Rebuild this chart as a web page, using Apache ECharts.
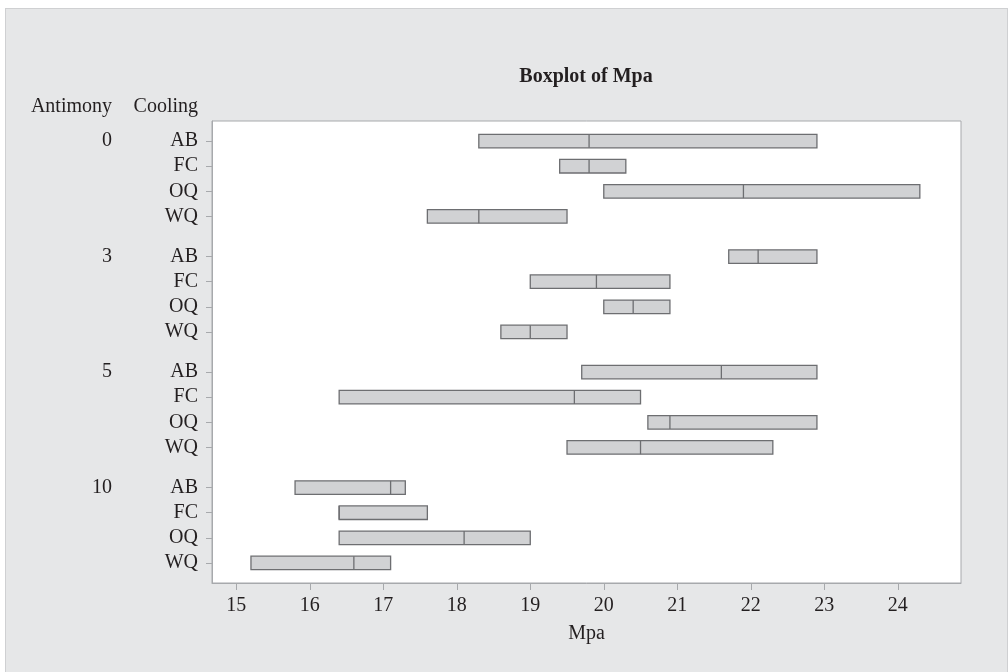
<!DOCTYPE html>
<html>
<head>
<meta charset="utf-8">
<script src="https://cdn.jsdelivr.net/npm/echarts@6/dist/echarts.min.js"></script>
<style>
  html, body { margin: 0; padding: 0; background: #ffffff; }
  #panel { position: absolute; left: 5px; top: 8px; width: 1003px; height: 666px; box-sizing: border-box;
           background: #e6e7e8; border: 1px solid #cfd0d2; }
  #chart { position: absolute; left: 0; top: 0; width: 1008px; height: 672px; }
</style>
</head>
<body>
<div id="panel"></div>
<div id="chart"></div>
<script>
// ---- data ----
const antimonyLevels = ['0', '3', '5', '10'];
const coolingMethods = ['AB', 'FC', 'OQ', 'WQ'];
// order: antimony 0 (AB,FC,OQ,WQ), 3 (...), 5 (...), 10 (...)
const q1Values     = [18.3, 19.4, 20.0, 17.6,  21.7, 19.0, 20.0, 18.6,  19.7, 16.4, 20.6, 19.5,  15.8, 16.4, 16.4, 15.2];
const medianValues = [19.8, 19.8, 21.9, 18.3,  22.1, 19.9, 20.4, 19.0,  21.6, 19.6, 20.9, 20.5,  17.1, 16.4, 18.1, 16.6];
const q3Values     = [22.9, 20.3, 24.3, 19.5,  22.9, 20.9, 20.9, 19.5,  22.9, 20.5, 22.9, 22.3,  17.3, 17.6, 19.0, 17.1];
const xTickValues  = [15, 16, 17, 18, 19, 20, 21, 22, 23, 24];

// ---- layout helpers ----
const groupStride = 4.6;
const positions = [];
const posCooling = [];
const groupStarts = [];
antimonyLevels.forEach((a, g) => {
  groupStarts.push(+(g * groupStride).toFixed(4));
  coolingMethods.forEach((c, i) => {
    positions.push(+(g * groupStride + i).toFixed(4));
    posCooling.push(c);
  });
});
function lookup(v, arr, labels) {
  for (let k = 0; k < arr.length; k++) if (Math.abs(arr[k] - v) < 0.01) return labels[k];
  return '';
}

const data = positions.map((p, k) => [q1Values[k], medianValues[k], q3Values[k], p]);

const font = 'Liberation Serif';
const textColor = '#231f20';
const axisGray = '#a7a9ac';

const chart = echarts.init(document.getElementById('chart'), null, { renderer: 'canvas' });
chart.setOption({
  backgroundColor: 'transparent',
  animation: false,
  textStyle: { fontFamily: font, color: textColor },
  grid: {
    left: 212, top: 121, right: 47, bottom: 89,
    show: true, backgroundColor: '#ffffff', borderColor: axisGray, borderWidth: 1
  },
  xAxis: {
    type: 'value', min: 14.67, max: 24.86, position: 'bottom',
    name: 'Mpa', nameLocation: 'middle', nameGap: 41,
    nameTextStyle: { fontFamily: font, fontSize: 20, color: textColor },
    axisLine: { show: true, onZero: false, lineStyle: { color: axisGray, width: 1 } },
    axisTick: { show: true, length: 7, customValues: xTickValues, lineStyle: { color: axisGray } },
    axisLabel: { customValues: xTickValues, margin: 13, fontFamily: font, fontSize: 20, color: textColor },
    splitLine: { show: false }
  },
  yAxis: [
    {
      type: 'value', inverse: true, min: -0.8, max: 17.6,
      axisLine: { show: true, onZero: false, lineStyle: { color: axisGray, width: 1 } },
      axisTick: { show: true, length: 6, customValues: positions, lineStyle: { color: axisGray } },
      axisLabel: {
        customValues: positions, margin: 14, fontFamily: font, fontSize: 20, color: textColor,
        padding: [4, 0, 0, 0],
        formatter: v => lookup(v, positions, posCooling)
      },
      splitLine: { show: false }
    },
    {
      type: 'value', inverse: true, min: -0.8, max: 17.6, position: 'left',
      axisLine: { show: false, onZero: false }, axisTick: { show: false },
      axisLabel: {
        customValues: groupStarts, margin: 100, fontFamily: font, fontSize: 20, color: textColor,
        padding: [4, 0, 0, 0],
        formatter: v => lookup(v, groupStarts, antimonyLevels)
      },
      splitLine: { show: false }
    }
  ],
  graphic: [
    { type: 'text', x: 586, y: 77, style: { text: 'Boxplot of Mpa', align: 'center', verticalAlign: 'middle',
      font: 'bold 20px "Liberation Serif"', fill: textColor } },
    { type: 'text', x: 112, y: 107, style: { text: 'Antimony', align: 'right', verticalAlign: 'middle',
      font: '20px "Liberation Serif"', fill: textColor } },
    { type: 'text', x: 198, y: 107, style: { text: 'Cooling', align: 'right', verticalAlign: 'middle',
      font: '20px "Liberation Serif"', fill: textColor } }
  ],
  series: [{
    type: 'custom',
    xAxisIndex: 0, yAxisIndex: 0,
    encode: { x: [0, 1, 2], y: 3 },
    data: data,
    renderItem: function (params, api) {
      const y = api.value(3);
      const a = api.coord([api.value(0), y]);
      const m = api.coord([api.value(1), y]);
      const b = api.coord([api.value(2), y]);
      const h = api.size([0, 0.54])[1];
      return {
        type: 'group',
        children: [
          { type: 'rect', shape: { x: a[0], y: a[1] - h / 2, width: b[0] - a[0], height: h },
            style: { fill: '#d1d2d4', stroke: '#6d6e71', lineWidth: 1.3 } },
          { type: 'line', shape: { x1: m[0], y1: m[1] - h / 2, x2: m[0], y2: m[1] + h / 2 },
            style: { stroke: '#6d6e71', lineWidth: 1.3 } }
        ]
      };
    }
  }]
});
</script>
</body>
</html>
